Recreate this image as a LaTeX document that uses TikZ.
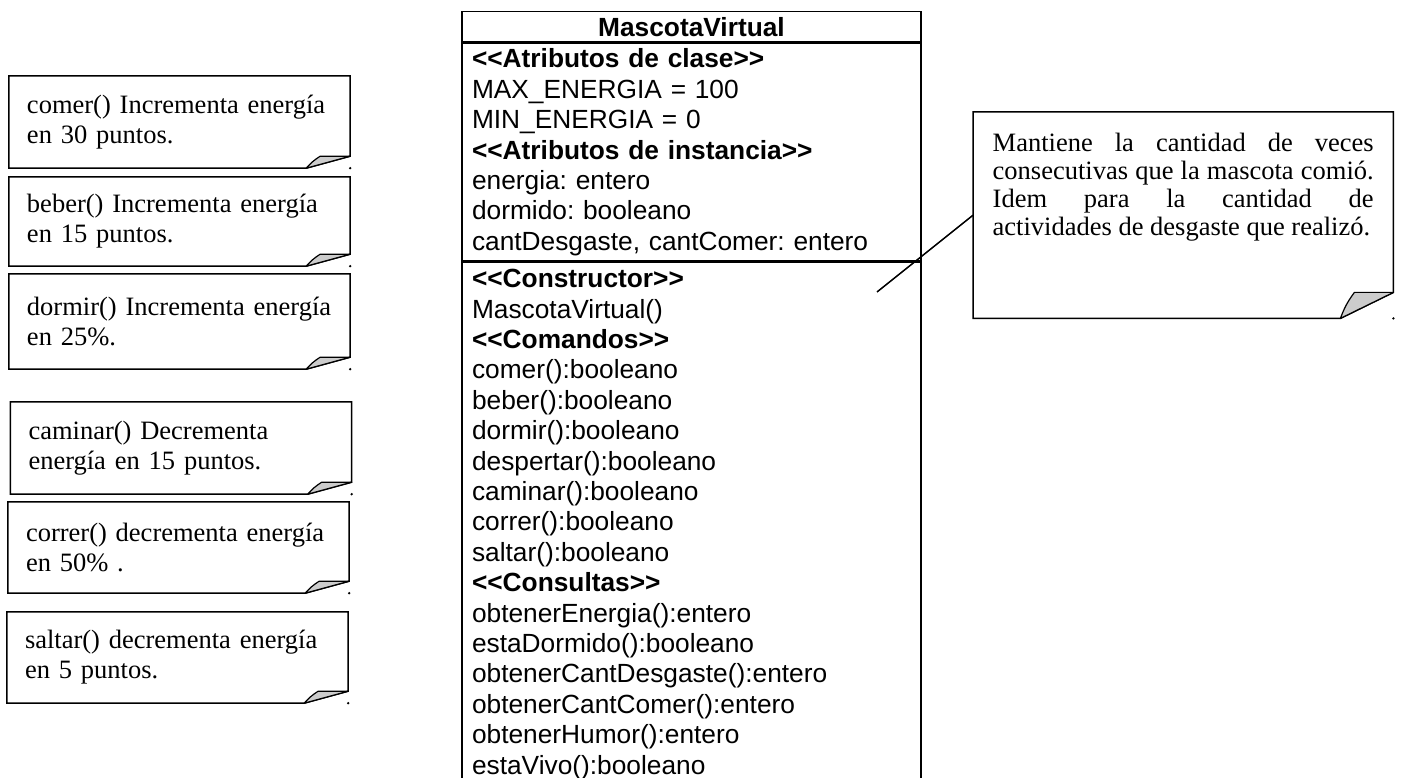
\documentclass[tikz,border=0pt]{standalone}
\usepackage{fontspec}
\setmainfont{Liberation Serif}
\setsansfont{Liberation Sans}[Ligatures=TeXOff]
\usetikzlibrary{positioning}

\begin{document}
\frenchspacing
\begin{tikzpicture}[x=1pt, y=-1pt,
  notebox/.style={shape=rectangle, inner xsep=18pt, inner ysep=0pt, text width=305pt, minimum height=92pt, align=left, font=\fontsize{26.5}{30}\selectfont},
  noteline/.style={line width=1.5pt, line join=miter},
  flap/.style={line width=1.2pt, line join=round, fill=black!20},
  classpart/.style={shape=rectangle, draw, line width=1.5pt, inner xsep=10pt, text width=439pt, font=\sffamily\fontsize{26.3}{30.4}\selectfont},
]
\useasboundingbox (0,0) rectangle (1401,778);

% class box
\node[classpart, align=center, inner ysep=0pt, minimum height=30.5pt, font=\sffamily\bfseries\fontsize{26.3}{30.5}\selectfont] (mv) at (691.5,27) {MascotaVirtual};
\node[classpart, align=left, anchor=north, inner ysep=4.5pt, minimum height=217pt] (attr) at (mv.south) {\textbf{<<Atributos de clase>>}\\MAX\_ENERGIA = 100\\MIN\_ENERGIA = 0\\\textbf{<<Atributos de instancia>>}\\energia: entero\\dormido: booleano\\cantDesgaste, cantComer: entero};
\node[classpart, align=left, anchor=north, inner ysep=7pt] (ops) at (attr.south) {\textbf{<<Constructor>>}\\MascotaVirtual()\\\textbf{<<Comandos>>}\\comer():booleano\\beber():booleano\\dormir():booleano\\despertar():booleano\\caminar():booleano\\correr():booleano\\saltar():booleano\\\textbf{<<Consultas>>}\\obtenerEnergia():entero\\estaDormido():booleano\\obtenerCantDesgaste():entero\\obtenerCantComer():entero\\obtenerHumor():entero\\estaVivo():booleano};

% notes
\node[notebox] (ncomer) at (179.5,122) {comer() Incrementa energía\\en 30 puntos.};
\node[notebox, minimum height=89pt] (nbeber) at (179.5,221.5) {beber() Incrementa energía\\en 15 puntos.};
\node[notebox, minimum height=95pt] (ndormir) at (179.5,321.5) {dormir() Incrementa energía\\en 25\%.};
\node[notebox] (ncaminar) at (181,448) {caminar() Decrementa\\energía en 15 puntos.};
\node[notebox, minimum height=91pt] (ncorrer) at (178.5,547.5) {correr() decrementa energía\\en 50\% .};
\node[notebox, minimum height=91pt] (nsaltar) at (177.5,657.5) {saltar() decrementa energía\\en 5 puntos.};
\node[shape=rectangle, minimum width=420pt, minimum height=206pt, anchor=north west] (ncant) at (973,112) {};
\node[anchor=north west, inner sep=0pt, text width=381pt, align=justify, font=\fontsize{26.5}{28}\selectfont] (tcant) at ([xshift=19.5pt, yshift=-21pt]ncant.north west) {\hyphenpenalty=10000 Mantiene la cantidad de veces\linebreak consecutivas que la mascota comió.\linebreak Idem para la cantidad de\linebreak actividades de desgaste que realizó.\par};

\foreach \n/\w/\f in {ncomer/44/12, nbeber/44/12, ndormir/44/12, ncaminar/44/12, ncorrer/44/12, nsaltar/44/12, ncant/53/26} {
  \draw[noteline] (\n.north west) -- (\n.north east) -- ([yshift=\f]\n.south east) -- ([xshift=-\w]\n.south east) -- (\n.south west) -- cycle;
  \draw[flap] ([xshift=-\w]\n.south east) to[bend left=8] ([xshift=-\w+14, yshift=\f]\n.south east) -- ([yshift=\f]\n.south east) -- cycle;
  \fill (\n.south east) circle (1.3);
}

% anchor of the note
\coordinate (cnt) at (877,292);
\draw[line width=1.5pt] (cnt) -- (ncant.west);
\end{tikzpicture}
\end{document}
